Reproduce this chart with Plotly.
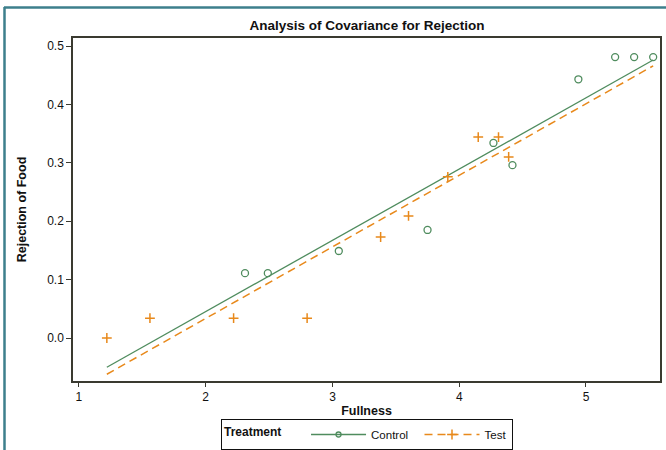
import plotly.graph_objects as go

# Data
control_x = [2.31, 2.49, 3.05, 3.75, 4.27, 4.42, 4.94, 5.23, 5.38, 5.53]
control_y = [0.111, 0.111, 0.149, 0.185, 0.334, 0.296, 0.443, 0.481, 0.481, 0.481]
test_x = [1.22, 1.56, 2.22, 2.80, 3.38, 3.60, 3.91, 4.15, 4.31, 4.39]
test_y = [0.0, 0.034, 0.034, 0.034, 0.173, 0.209, 0.276, 0.344, 0.344, 0.310]
fit_x = [1.22, 5.53]
control_fit_y = [-0.050, 0.476]
test_fit_y = [-0.062, 0.466]
x_ticks = [1, 2, 3, 4, 5]
y_ticks = [0.0, 0.1, 0.2, 0.3, 0.4, 0.5]
y_ticklabels = ["0.0", "0.1", "0.2", "0.3", "0.4", "0.5"]

GREEN = "#4f8c5e"
ORANGE = "#e8891b"
AXIS = "#3a3a30"
FONT = "Liberation Sans, Arial, sans-serif"

fig = go.Figure()

fig.add_trace(go.Scatter(x=fit_x, y=control_fit_y, mode="lines",
                         line=dict(color=GREEN, width=1.3), showlegend=False, hoverinfo="skip"))
fig.add_trace(go.Scatter(x=fit_x, y=test_fit_y, mode="lines",
                         line=dict(color=ORANGE, width=1.5, dash="8px,5px"), showlegend=False, hoverinfo="skip"))
fig.add_trace(go.Scatter(x=control_x, y=control_y, mode="markers",
                         marker=dict(symbol="circle-open", size=7, color=GREEN, line=dict(width=1.3, color=GREEN)),
                         showlegend=False))
fig.add_trace(go.Scatter(x=test_x, y=test_y, mode="markers",
                         marker=dict(symbol="cross-thin-open", size=7, color=ORANGE, line=dict(width=1.5, color=ORANGE)),
                         showlegend=False))

# legend entries
fig.add_trace(go.Scatter(x=[None], y=[None], mode="lines+markers", name="Control  ",
                         line=dict(color=GREEN, width=1.3),
                         marker=dict(symbol="circle-open", size=5, color=GREEN, line=dict(width=1.3, color=GREEN))))
fig.add_trace(go.Scatter(x=[None], y=[None], mode="lines+markers", name="Test",
                         line=dict(color=ORANGE, width=1.5, dash="8px,5px"),
                         marker=dict(symbol="cross-thin-open", size=7, color=ORANGE, line=dict(width=1.5, color=ORANGE))))

L, R, T, B = 73, 6, 38, 69
W, H = 666, 450
pw, ph = W - L - R, H - T - B

def px_to_paper_x(px):
    return (px - L) / pw

def py_to_paper_y(py):
    return (H - B - py) / ph

fig.update_layout(
    width=W, height=H,
    margin=dict(l=L, r=R, t=T, b=B, autoexpand=False),
    paper_bgcolor="white", plot_bgcolor="white",
    font=dict(family=FONT, size=12, color="#111111"),
    title=dict(text="<b>Analysis of Covariance for Rejection</b>", x=px_to_paper_x(367), xref="paper",
               xanchor="center", y=1 - 25 / H, yanchor="middle", font=dict(size=13.5, family=FONT, color="#111111")),
    xaxis=dict(range=[0.953, 5.584], tickvals=x_ticks, ticks="outside", ticklen=4, tickcolor=AXIS,
               showline=True, linecolor=AXIS, linewidth=1.5, mirror=True, showgrid=False, zeroline=False,
               tickfont=dict(size=12, family=FONT, color="#111111"),
               title=dict(text="<b>Fullness</b>", font=dict(size=12.5, family=FONT), standoff=3)),
    yaxis=dict(range=[-0.0736, 0.5137], tickvals=y_ticks, ticktext=y_ticklabels, ticks="outside", ticklen=5,
               tickcolor=AXIS, showline=True, linecolor=AXIS, linewidth=1.5, mirror=True, showgrid=False,
               zeroline=False, tickfont=dict(size=12, family=FONT, color="#111111"),
               title=dict(text="<b>Rejection of Food</b>", font=dict(size=12.5, family=FONT), standoff=18)),
    legend=dict(orientation="h", x=px_to_paper_x(367), xanchor="center", y=py_to_paper_y(450), yanchor="bottom",
                bordercolor="#111111", borderwidth=1, bgcolor="white",
                title=dict(text="<b>Treatment</b>     ", font=dict(size=12, family=FONT)),
                font=dict(size=11.5, family=FONT, color="#111111"), tracegroupgap=0, itemwidth=55,
                valign="middle"),
    showlegend=True,
)

# outer teal frame (top and left edges)
fig.add_shape(type="line", xref="paper", yref="paper",
              x0=px_to_paper_x(4), x1=px_to_paper_x(666), y0=py_to_paper_y(7.5), y1=py_to_paper_y(7.5),
              line=dict(color="#3d7f8c", width=2.5))
fig.add_shape(type="line", xref="paper", yref="paper",
              x0=px_to_paper_x(4.5), x1=px_to_paper_x(4.5), y0=py_to_paper_y(7), y1=py_to_paper_y(450),
              line=dict(color="#3d7f8c", width=2.5))

fig.write_html("out.html")
